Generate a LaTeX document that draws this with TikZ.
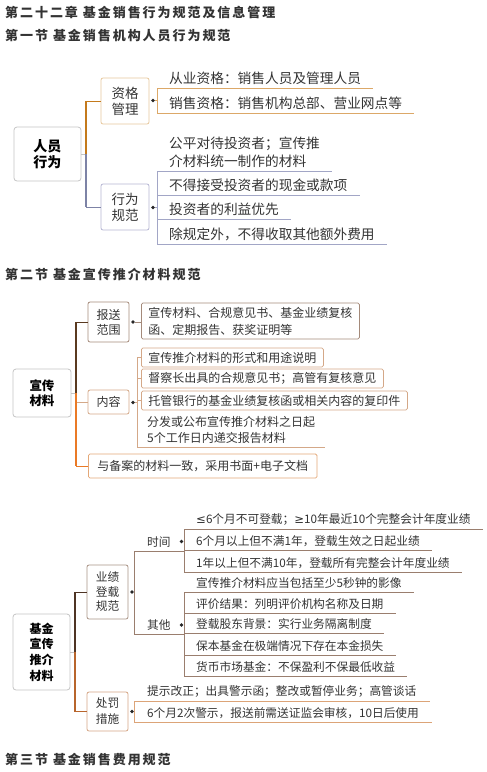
\documentclass[tikz,border=0pt]{standalone}
\usepackage{fontspec}
\setmainfont{Noto Sans CJK SC}
\newfontfamily\titlefont[LetterSpace=15]{Noto Sans CJK SC}
\newfontfamily\symfont{DejaVu Sans}
\usepackage{tikz}
\usetikzlibrary{positioning}

\definecolor{textgray}{HTML}{333333}
\definecolor{rootgray}{HTML}{C4C4C4}
\definecolor{zgtrunk}{HTML}{C47A1C}
\definecolor{zgbox}{HTML}{E6C79C}
\definecolor{zgline}{HTML}{DCA868}
\definecolor{xwtrunk}{HTML}{7D83A6}
\definecolor{xwbox}{HTML}{B4B4D2}
\definecolor{xwline}{HTML}{A2A6C6}
\definecolor{bstrunk}{HTML}{5A3A20}
\definecolor{bsbox}{HTML}{A48A7A}
\definecolor{nrline}{HTML}{D4A888}
\definecolor{batrunk}{HTML}{EA7A26}
\definecolor{babox}{HTML}{E4A878}
\definecolor{yjtrunk}{HTML}{4E3424}
\definecolor{yjbox}{HTML}{A89284}
\definecolor{yjline}{HTML}{9A7E6E}
\definecolor{cftrunk}{HTML}{B8652C}
\definecolor{cfbox}{HTML}{D4A584}
\definecolor{cfline}{HTML}{DCA478}

\newcommand\bigtxt{\fontsize{13.7}{18}\selectfont}
\newcommand\boxtxt{\fontsize{13.5}{16}\selectfont}
\newcommand\smalltxt{\fontsize{12}{16}\selectfont}
\newcommand\tinytxt{\fontsize{11.7}{14.5}\selectfont}

\begin{document}
\begin{tikzpicture}[x=1pt, y=-1pt,
    title/.style={anchor=west, inner sep=0pt, text=textgray, font=\titlefont\bfseries\fontsize{13}{15}\selectfont},
    root/.style={draw=rootgray, rounded corners=3pt, line width=0.8pt, align=center, inner sep=0pt, text=black},
    box/.style={draw, rounded corners=2pt, line width=0.8pt, align=center, inner sep=0pt, text=textgray},
    item/.style={draw, rounded corners=1.5pt, line width=0.8pt, anchor=west, align=left, inner xsep=7pt, inner ysep=0pt, text=textgray, font=\smalltxt},
    ul/.style={anchor=south west, align=left, inner xsep=12pt, inner ysep=3pt, text=textgray},
    trunk/.style={line width=1.8pt},
    link/.style={line width=0.8pt},
    knob/.style={circle, fill=black!85, inner sep=0pt, minimum size=3.6pt}]

    \useasboundingbox (0,0) rectangle (487,772);

    \node[title] (h1) at (5,12) {第二十二章 基金销售行为规范及信息管理};
    \node[title] (h2) at (5,36) {第一节 基金销售机构人员行为规范};

    \node[root, minimum width=67pt, minimum height=54pt, font=\bfseries\fontsize{14}{16}\selectfont] (ry) at (47.5,154) {人员\\行为};
    \node[box, draw=zgbox, minimum width=48pt, minimum height=46pt, font=\boxtxt] (zg) at (125,101) {资格\\管理};
    \node[box, draw=xwbox, minimum width=48pt, minimum height=46pt, font=\boxtxt] (xw) at (125,207) {行为\\规范};

    \node[ul, font=\bigtxt] (zg1) at (157,88) {从业资格：销售人员及管理人员};
    \node[ul, font=\bigtxt] (zg2) at (157,113) {销售资格：销售机构总部、营业网点等};
    \node[ul, font=\bigtxt] (xw1) at (157,171) {公平对待投资者；宣传推\\介材料统一制作的材料};
    \node[ul, font=\bigtxt] (xw2) at (157,195) {不得接受投资者的现金或款项};
    \node[ul, font=\bigtxt] (xw3) at (157,219) {投资者的利益优先};
    \node[ul, font=\bigtxt] (xw4) at (157,244) {除规定外，不得收取其他额外费用};

    \node[knob] (d1) at (153,100.5) {};
    \node[knob] (d2) at (153,207.5) {};

    \coordinate (j1) at (86,154);
    \draw[link, rootgray] (ry.east) -- (j1);
    \draw[trunk, zgtrunk] (j1) -- (j1 |- zg.west);
    \draw[link, zgtrunk] (j1 |- zg.west) -- (zg.west);
    \draw[trunk, xwtrunk] (j1) -- (j1 |- xw.west);
    \draw[link, xwtrunk] (j1 |- xw.west) -- (xw.west);

    \draw[link, zgline] (zg1.south west) -- (zg2.south west);
    \draw[link, zgline] (d1) -- (d1 -| zg1.south west);
    \foreach \n in {zg1,zg2}
        \draw[link, zgline] (\n.south west) -- (\n.south east);
    \draw[link, xwline] (xw1.south west) -- (xw4.south west);
    \draw[link, xwline] (d2) -- (d2 -| xw1.south west);
    \foreach \n in {xw1,xw2,xw3,xw4}
        \draw[link, xwline] (\n.south west) -- (\n.south east);

    \node[title] (h3) at (5,274) {第二节 基金宣传推介材料规范};

    \node[root, minimum width=58pt, minimum height=48pt, font=\bfseries\fontsize{12.5}{14.5}\selectfont] (xc) at (42,393) {宣传\\材料};
    \node[box, draw=bsbox, minimum width=41pt, minimum height=40pt, font=\fontsize{12}{15}\selectfont] (bs) at (108.5,322) {报送\\范围};
    \node[box, draw=nrline, minimum width=41pt, minimum height=24pt, font=\smalltxt] (nr) at (108.5,402) {内容};

    \node[item, draw=bsbox, minimum height=36pt, font=\fontsize{12}{17}\selectfont] (bs1) at (141,321) {宣传材料、合规意见书、基金业绩复核\\函、定期报告、获奖证明等};
    \node[item, draw=nrline, minimum height=19pt] (nr1) at (141,357.5) {宣传推介材料的形式和用途说明};
    \node[item, draw=nrline, minimum height=19pt] (nr2) at (141,378.5) {督察长出具的合规意见书；高管有复核意见};
    \node[item, draw=nrline, minimum height=19pt] (nr3) at (141,400.5) {托管银行的基金业绩复核函或相关内容的复印件};
    \node[ul, inner xsep=10pt, font=\smalltxt] (nr4) at (137,447) {分发或公布宣传推介材料之日起\\5个工作日内递交报告材料};
    \node[item, draw=babox, minimum height=24pt, inner xsep=9pt] (ba) at (88,466) {与备案的材料一致，采用书面+电子文档};

    \node[knob] (d3) at (133,322) {};
    \node[knob] (d4) at (133,402.5) {};

    \coordinate (j2) at (76,393);
    \draw[link, rootgray] (xc.east) -- (j2);
    \draw[link, nrline] (j2) -- (j2 |- nr.west) -- (nr.west);
    \draw[trunk, bstrunk] (j2) -- (j2 |- bs.west);
    \draw[link, bstrunk] (j2 |- bs.west) -- (bs.west);
    \draw[trunk, batrunk] (j2) -- (j2 |- ba.west);
    \draw[link, batrunk] (j2 |- ba.west) -- (ba.west);

    \draw[link, bsbox] (d3) -- (d3 -| bs1.west);
    \draw[link, nrline] (nr1.west -| nr4.south west) -- (nr4.south west);
    \draw[link, nrline] (d4) -- (d4 -| nr4.south west);
    \foreach \n in {nr1,nr2,nr3}
        \draw[link, nrline] (\n.west -| nr4.south west) -- (\n.west);
    \draw[link, nrline] (nr4.south west) -- (nr4.south east);

    \node[root, minimum width=57pt, minimum height=76pt, font=\bfseries\fontsize{12}{15.7}\selectfont] (jj) at (41.5,652) {基金\\宣传\\推介\\材料};
    \node[box, draw=yjbox, minimum width=41pt, minimum height=54pt, font=\tinytxt] (yj) at (107.5,592) {业绩\\登载\\规范};
    \node[box, draw=cfbox, minimum width=41pt, minimum height=39pt, font=\fontsize{11.7}{16}\selectfont] (cf) at (107.5,711.5) {处罚\\措施};

    \node[ul, inner xsep=13pt, font=\tinytxt] (sj) at (134,551) {时间};
    \node[ul, inner xsep=13pt, font=\tinytxt] (qt) at (134,634) {其他};

    \node[ul, font=\tinytxt] (sj1) at (184,529) {{\symfont ≤}6个月不可登载；{\symfont ≥}10年最近10个完整会计年度业绩};
    \node[ul, font=\tinytxt] (sj2) at (184,550) {6个月以上但不满1年，登载生效之日起业绩};
    \node[ul, font=\tinytxt] (sj3) at (184,572) {1年以上但不满10年，登载所有完整会计年度业绩};
    \node[ul, font=\tinytxt] (qt1) at (184,592) {宣传推介材料应当包括至少5秒钟的影像};
    \node[ul, font=\tinytxt] (qt2) at (184,613) {评价结果：列明评价机构名称及日期};
    \node[ul, font=\tinytxt] (qt3) at (184,633) {登载股东背景：实行业务隔离制度};
    \node[ul, font=\tinytxt] (qt4) at (184,655) {保本基金在极端情况下存在本金损失};
    \node[ul, font=\tinytxt] (qt5) at (184,676) {货币市场基金：不保盈利不保最低收益};
    \node[ul, inner xsep=13pt, font=\tinytxt] (cf1) at (134,701) {提示改正；出具警示函；整改或暂停业务；高管谈话};
    \node[ul, inner xsep=13pt, font=\tinytxt] (cf2) at (134,722) {6个月2次警示，报送前需送证监会审核，10日后使用};

    \node[knob] (d5) at (132,592) {};
    \node[knob] (d6) at (132,711.5) {};
    \node[knob] (d7) at (181.5,541.5) {};
    \node[knob] (d8) at (181.5,625) {};

    \coordinate (j3) at (75,652);
    \draw[link, rootgray] (jj.east) -- (j3);
    \draw[trunk, yjtrunk] (j3) -- (j3 |- yj.west);
    \draw[link, yjtrunk] (j3 |- yj.west) -- (yj.west);
    \draw[trunk, cftrunk] (j3) -- (j3 |- cf.west);
    \draw[link, cftrunk] (j3 |- cf.west) -- (cf.west);

    \draw[link, yjline] (sj.south west) -- (qt.south west);
    \draw[link, yjline] (d5) -- (d5 -| sj.south west);
    \draw[link, yjline] (sj1.south west) -- (sj3.south west);
    \draw[link, yjline] (qt1.south west) -- (qt5.south west);
    \foreach \n in {sj,qt,sj1,sj2,sj3,qt1,qt2,qt3,qt4,qt5}
        \draw[link, yjline] (\n.south west) -- (\n.south east);

    \draw[link, cfline] (cf1.south west) -- (cf2.south west);
    \draw[link, cfline] (d6) -- (d6 -| cf1.south west);
    \foreach \n in {cf1,cf2}
        \draw[link, cfline] (\n.south west) -- (\n.south east);

    \node[title] (h4) at (5,760) {第三节 基金销售费用规范};
\end{tikzpicture}
\end{document}
